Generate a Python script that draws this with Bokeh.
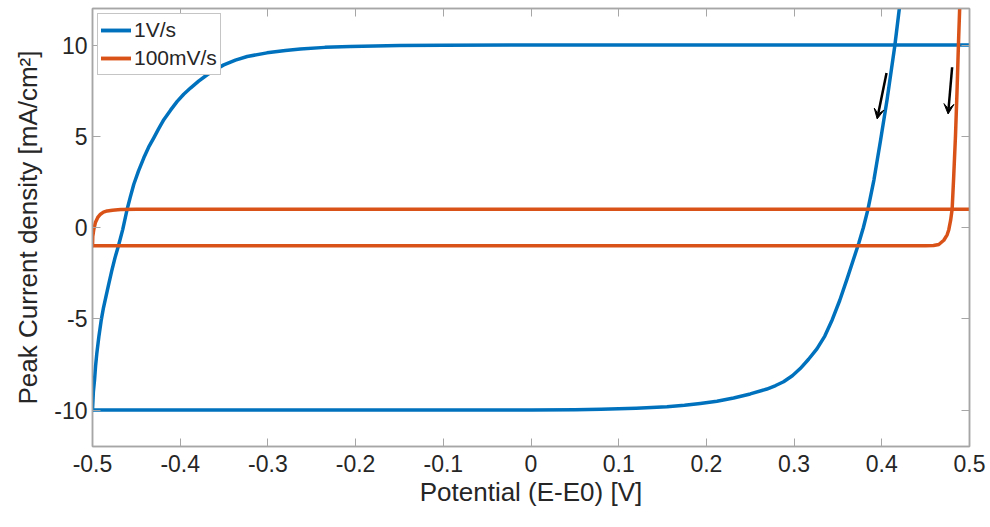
from bokeh.plotting import figure
from bokeh.models import (Arrow, VeeHead, FixedTicker, LinearAxis, Range1d,
                          CustomJSTickFormatter, Legend)
from bokeh.embed import file_html
from bokeh.resources import INLINE

# Cyclic voltammograms, two scan rates (potential vs E0 in V, current density in mA/cm2)
# 1 V/s: forward (anodic) sweep
fast_fwd_potential = [-0.5, 0.0, 0.05, 0.08, 0.12, 0.155, 0.175, 0.193, 0.212, 0.231,
                      0.25, 0.269, 0.279, 0.288, 0.298, 0.307, 0.3165, 0.326, 0.335,
                      0.3435, 0.352, 0.3605, 0.367, 0.3738, 0.379, 0.384, 0.391, 0.3985,
                      0.406, 0.4148, 0.419, 0.4215]
fast_fwd_current = [-10, -10, -9.99, -9.96, -9.90, -9.82, -9.74, -9.64, -9.52, -9.34,
                    -9.12, -8.85, -8.66, -8.45, -8.12, -7.73, -7.22, -6.65, -5.95,
                    -5.05, -4.0, -2.8, -1.85, -0.85, 0.0, 0.95, 2.6, 4.75,
                    7.0, 9.95, 11.6, 12.6]
# 1 V/s: reverse (cathodic) sweep
fast_rev_potential = [0.5, 0.0, -0.1, -0.15, -0.206, -0.235, -0.263, -0.28, -0.301,
                      -0.3236, -0.337, -0.3503, -0.36, -0.3692, -0.379, -0.3883,
                      -0.396, -0.4034, -0.411, -0.4187, -0.4245, -0.4301, -0.436,
                      -0.4415, -0.4475, -0.4529, -0.457, -0.4605, -0.4655, -0.4704,
                      -0.4743, -0.478, -0.4815, -0.4848, -0.4875, -0.4901, -0.4928,
                      -0.4951, -0.4965, -0.4977, -0.499, -0.5]
fast_rev_current = [10, 10, 9.99, 9.97, 9.92, 9.87, 9.78, 9.70, 9.57,
                    9.37, 9.17, 8.91, 8.65, 8.37, 8.02, 7.64,
                    7.3, 6.91, 6.43, 5.91, 5.42, 4.91, 4.4,
                    3.82, 3.1, 2.37, 1.65, 1.0, -0.1, -1.0,
                    -1.65, -2.36, -3.1, -3.82, -4.4, -5.09, -6.0,
                    -6.91, -7.6, -8.36, -9.0, -10]

# 100 mV/s: forward sweep
slow_fwd_potential = [-0.5, 0.45, 0.459, 0.465, 0.4707, 0.4745, 0.4764, 0.4785, 0.4802,
                      0.482, 0.484, 0.4858, 0.4873, 0.489]
slow_fwd_current = [-1.0, -1.0, -0.99, -0.93, -0.7, -0.4, -0.12, 0.4, 1.0,
                    2.8, 5.0, 7.5, 9.9, 12.3]
# 100 mV/s: reverse sweep
slow_rev_potential = [0.5, -0.45, -0.468, -0.4772, -0.4832, -0.4875, -0.4909, -0.494,
                      -0.4967, -0.4985, -0.4997, -0.5]
slow_rev_current = [1.0, 1.0, 0.98, 0.95, 0.91, 0.84, 0.73, 0.55,
                    0.27, -0.1, -0.5, -1.0]

# Sweep-direction arrows (start -> end, data units)
arrow_x_start = [0.4054, 0.4802]
arrow_y_start = [8.46, 8.78]
arrow_x_end = [0.3947, 0.4756]
arrow_y_end = [5.95, 6.22]

x_ticks = [-0.5, -0.4, -0.3, -0.2, -0.1, 0.0, 0.1, 0.2, 0.3, 0.4, 0.5]
y_ticks = [-10, -5, 0, 5, 10]

BLUE = "#0072BD"
ORANGE = "#D95319"
TEXT = "#262626"
AXIS = "#a6a6a6"
FONT = "Liberation Sans"

p = figure(width=990, height=527, output_backend="svg", toolbar_location=None,
           x_range=Range1d(-0.5, 0.5), y_range=Range1d(-12, 12),
           min_border_left=92, min_border_right=21, min_border_top=8,
           min_border_bottom=81, x_axis_location=None, y_axis_location=None)
p.grid.visible = False
p.outline_line_color = AXIS
p.outline_line_width = 1.5
p.background_fill_color = "white"
p.border_fill_color = "white"

fmt_x = CustomJSTickFormatter(code="""
    const s = tick.toFixed(1);
    return (s === "0.0" || s === "-0.0") ? "0" : s;
""")
fmt_y = CustomJSTickFormatter(code="return tick.toFixed(0);")


def make_axis(ticks, show_labels, formatter=None):
    ax = LinearAxis(ticker=FixedTicker(ticks=ticks))
    if formatter is not None:
        ax.formatter = formatter
    ax.axis_line_color = AXIS
    ax.axis_line_width = 1.5
    ax.major_tick_line_color = AXIS
    ax.major_tick_line_width = 1
    ax.major_tick_in = 8
    ax.major_tick_out = 0
    ax.minor_tick_line_color = None
    ax.major_label_text_font = FONT
    ax.major_label_text_color = TEXT
    ax.major_label_text_font_size = "23px"
    ax.axis_label_text_font = FONT
    ax.axis_label_text_color = TEXT
    ax.axis_label_text_font_size = "26px"
    ax.axis_label_text_font_style = "normal"
    if not show_labels:
        ax.major_label_text_font_size = "0px"
        ax.major_label_standoff = 0
    return ax


xb = make_axis(x_ticks, True, fmt_x)
xb.axis_label = "Potential (E-E0) [V]"
xb.major_label_standoff = 8
xb.axis_label_standoff = 2
yl = make_axis(y_ticks, True, fmt_y)
yl.axis_label = "Peak Current density [mA/cm²]"
yl.major_label_standoff = 5
yl.axis_label_standoff = 8
xt = make_axis(x_ticks, False)
yr = make_axis(y_ticks, False)
p.add_layout(xb, "below")
p.add_layout(yl, "left")
p.add_layout(xt, "above")
p.add_layout(yr, "right")

line_kw = dict(line_width=3.5, line_join="round", line_cap="round")
r1a = p.line(fast_fwd_potential, fast_fwd_current, line_color=BLUE, **line_kw)
r1b = p.line(fast_rev_potential, fast_rev_current, line_color=BLUE, **line_kw)
r2a = p.line(slow_fwd_potential, slow_fwd_current, line_color=ORANGE, **line_kw)
r2b = p.line(slow_rev_potential, slow_rev_current, line_color=ORANGE, **line_kw)

for xs, ys, xe, ye in zip(arrow_x_start, arrow_y_start, arrow_x_end, arrow_y_end):
    p.add_layout(Arrow(x_start=xs, y_start=ys, x_end=xe, y_end=ye,
                       line_color="black", line_width=2.5,
                       end=VeeHead(size=10, line_color="black", fill_color="black",
                                   line_width=1)))

legend = Legend(items=[("1V/s", [r1a, r1b]), ("100mV/s", [r2a, r2b])],
                location="top_left", margin=5, padding=3, spacing=2,
                glyph_width=30, glyph_height=26, label_height=26,
                label_standoff=3, label_text_font=FONT,
                label_text_font_size="21px", label_text_color=TEXT,
                border_line_color="#8c8c8c", border_line_width=1,
                background_fill_color="white", background_fill_alpha=1)
p.add_layout(legend)

open("out.html", "w").write(file_html(p, INLINE))
